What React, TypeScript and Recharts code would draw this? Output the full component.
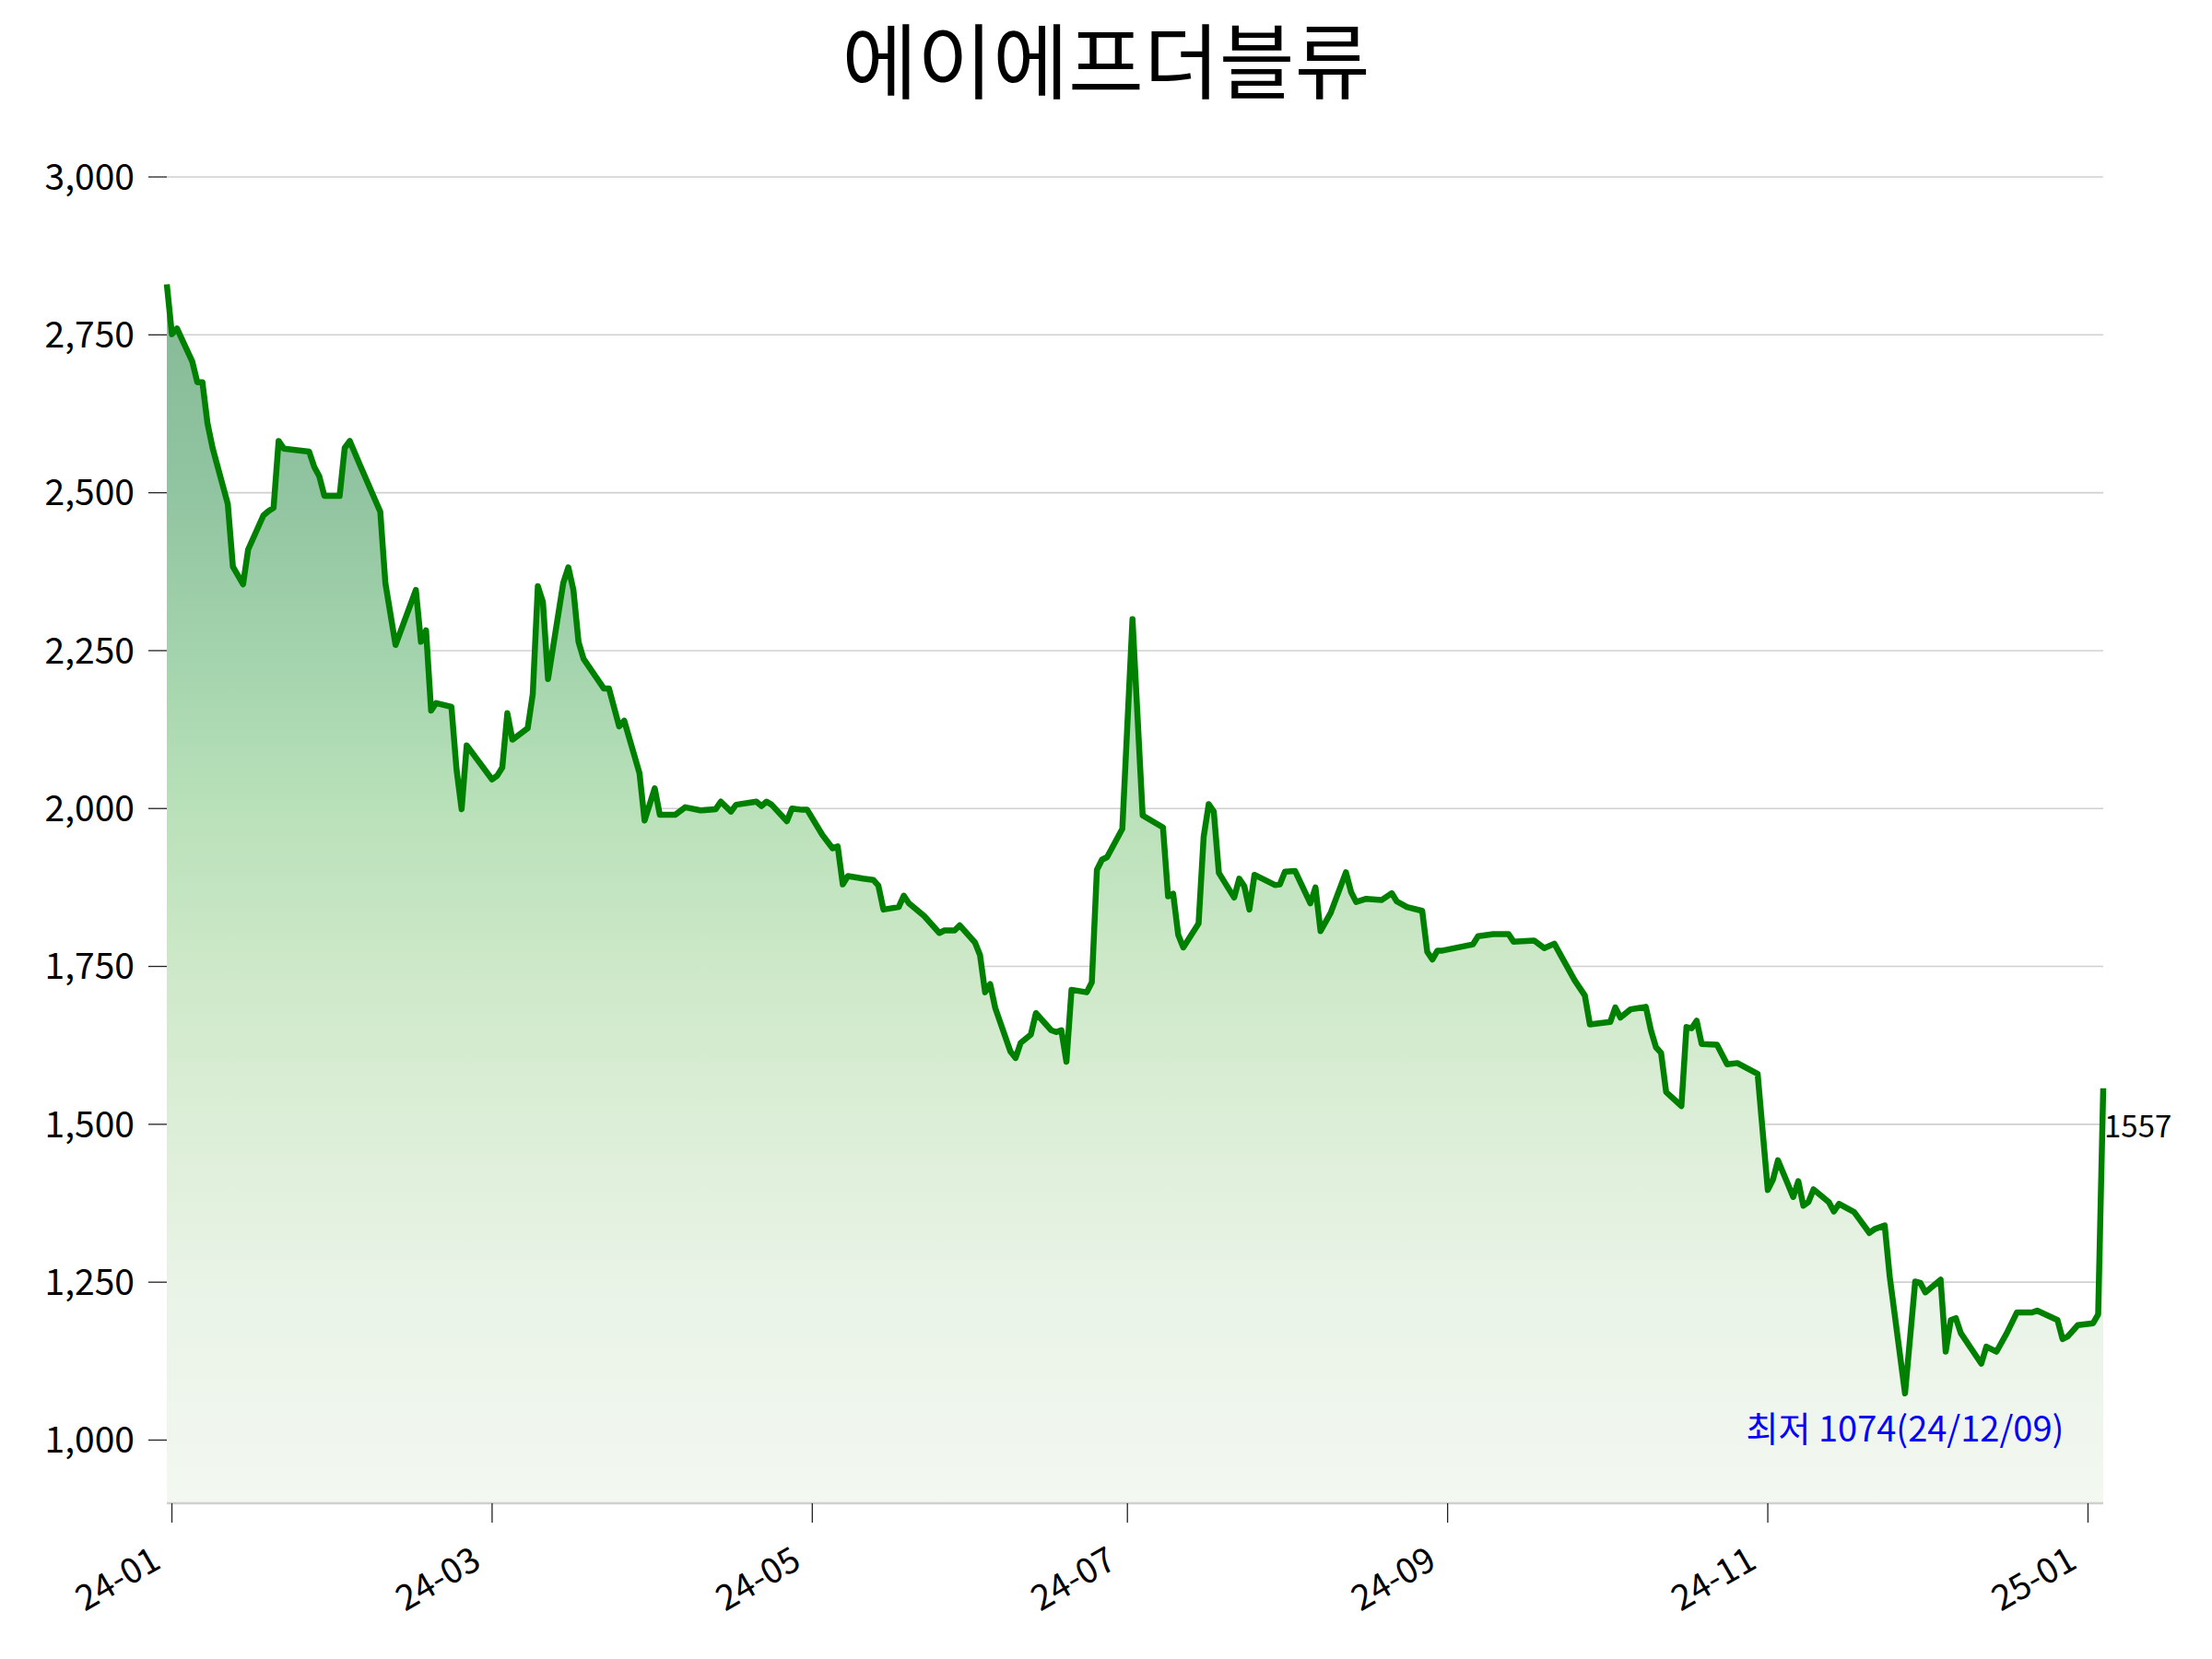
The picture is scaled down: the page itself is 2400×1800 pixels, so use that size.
import React from 'react';
import { AreaChart, Area, XAxis, YAxis, CartesianGrid, ReferenceDot } from 'recharts';

const TITLE = '에이에프더블류';
const FONT = '"Noto Sans CJK KR", "Noto Sans", sans-serif';

const dates = [
  '2024-01-02', '2024-01-03', '2024-01-04', '2024-01-07', '2024-01-08', '2024-01-09', '2024-01-10', '2024-01-11',
  '2024-01-14', '2024-01-15', '2024-01-17', '2024-01-18', '2024-01-21', '2024-01-22', '2024-01-23', '2024-01-24',
  '2024-01-25', '2024-01-30', '2024-01-31', '2024-02-01', '2024-02-02', '2024-02-05', '2024-02-06', '2024-02-07',
  '2024-02-09', '2024-02-13', '2024-02-14', '2024-02-16', '2024-02-20', '2024-02-21', '2024-02-22', '2024-02-23',
  '2024-02-24', '2024-02-27', '2024-02-28', '2024-02-29', '2024-03-01', '2024-03-06', '2024-03-07', '2024-03-08',
  '2024-03-09', '2024-03-10', '2024-03-13', '2024-03-14', '2024-03-15', '2024-03-16', '2024-03-17', '2024-03-20',
  '2024-03-21', '2024-03-22', '2024-03-23', '2024-03-24', '2024-03-28', '2024-03-29', '2024-03-31', '2024-04-01',
  '2024-04-04', '2024-04-05', '2024-04-07', '2024-04-08', '2024-04-11', '2024-04-13', '2024-04-16', '2024-04-19',
  '2024-04-20', '2024-04-22', '2024-04-23', '2024-04-27', '2024-04-28', '2024-04-29', '2024-04-30', '2024-05-03',
  '2024-05-04', '2024-05-06', '2024-05-07', '2024-05-10', '2024-05-12', '2024-05-13', '2024-05-14', '2024-05-15',
  '2024-05-18', '2024-05-20', '2024-05-21', '2024-05-22', '2024-05-25', '2024-05-26', '2024-05-27', '2024-05-30',
  '2024-06-02', '2024-06-03', '2024-06-05', '2024-06-06', '2024-06-09', '2024-06-10', '2024-06-11', '2024-06-12',
  '2024-06-13', '2024-06-16', '2024-06-17', '2024-06-18', '2024-06-20', '2024-06-21', '2024-06-24', '2024-06-25',
  '2024-06-26', '2024-06-27', '2024-06-28', '2024-07-01', '2024-07-02', '2024-07-03', '2024-07-04', '2024-07-05',
  '2024-07-08', '2024-07-10', '2024-07-12', '2024-07-16', '2024-07-17', '2024-07-18', '2024-07-19', '2024-07-20',
  '2024-07-23', '2024-07-24', '2024-07-25', '2024-07-26', '2024-07-27', '2024-07-30', '2024-07-31', '2024-08-01',
  '2024-08-02', '2024-08-03', '2024-08-07', '2024-08-08', '2024-08-09', '2024-08-11', '2024-08-14', '2024-08-15',
  '2024-08-16', '2024-08-18', '2024-08-21', '2024-08-22', '2024-08-23', '2024-08-25', '2024-08-28', '2024-08-30',
  '2024-08-31', '2024-09-02', '2024-09-05', '2024-09-06', '2024-09-07', '2024-09-08', '2024-09-09', '2024-09-15',
  '2024-09-16', '2024-09-19', '2024-09-22', '2024-09-23', '2024-09-27', '2024-09-29', '2024-10-01', '2024-10-05',
  '2024-10-07', '2024-10-08', '2024-10-12', '2024-10-13', '2024-10-14', '2024-10-16', '2024-10-19', '2024-10-20',
  '2024-10-21', '2024-10-22', '2024-10-23', '2024-10-26', '2024-10-27', '2024-10-28', '2024-10-29', '2024-10-30',
  '2024-11-02', '2024-11-04', '2024-11-06', '2024-11-10', '2024-11-12', '2024-11-13', '2024-11-14', '2024-11-17',
  '2024-11-18', '2024-11-19', '2024-11-20', '2024-11-21', '2024-11-24', '2024-11-25', '2024-11-26', '2024-11-29',
  '2024-12-02', '2024-12-03', '2024-12-05', '2024-12-06', '2024-12-09', '2024-12-11', '2024-12-12', '2024-12-13',
  '2024-12-16', '2024-12-17', '2024-12-18', '2024-12-19', '2024-12-20', '2024-12-24', '2024-12-25', '2024-12-27',
  '2024-12-29', '2024-12-31', '2025-01-03', '2025-01-04', '2025-01-08', '2025-01-09', '2025-01-10', '2025-01-12',
  '2025-01-15', '2025-01-16', '2025-01-17',
];

const closes = [
  2830, 2751, 2760, 2708, 2675, 2675, 2610, 2571,
  2482, 2383, 2355, 2410, 2464, 2471, 2476, 2582,
  2570, 2565, 2541, 2526, 2495, 2495, 2571, 2582,
  2544, 2470, 2357, 2259, 2346, 2264, 2282, 2155,
  2167, 2161, 2062, 1999, 2100, 2046, 2052, 2065,
  2151, 2109, 2127, 2181, 2352, 2327, 2205, 2357,
  2382, 2346, 2264, 2237, 2190, 2190, 2130, 2139,
  2056, 1981, 2032, 1990, 1990, 2002, 1997, 1999,
  2011, 1995, 2006, 2011, 2004, 2011, 2006, 1980,
  2000, 1998, 1998, 1958, 1937, 1940, 1880, 1893,
  1889, 1887, 1878, 1840, 1844, 1862, 1850, 1830,
  1803, 1807, 1807, 1815, 1788, 1768, 1709, 1722,
  1684, 1615, 1605, 1629, 1642, 1676, 1649, 1646,
  1649, 1599, 1713, 1709, 1725, 1903, 1919, 1923,
  1968, 2300, 1989, 1970, 1861, 1865, 1800, 1780,
  1818, 1955, 2007, 1995, 1898, 1859, 1889, 1877,
  1840, 1895, 1879, 1880, 1900, 1901, 1850, 1875,
  1806, 1835, 1899, 1868, 1852, 1857, 1855, 1866,
  1853, 1844, 1838, 1773, 1761, 1775, 1775, 1785,
  1798, 1801, 1801, 1789, 1791, 1779, 1786, 1728,
  1704, 1658, 1662, 1685, 1669, 1682, 1686, 1649,
  1622, 1613, 1551, 1529, 1654, 1652, 1664, 1627,
  1626, 1595, 1597, 1580, 1396, 1412, 1443, 1385,
  1410, 1371, 1377, 1397, 1377, 1362, 1374, 1361,
  1328, 1334, 1340, 1258, 1074, 1251, 1249, 1234,
  1254, 1140, 1190, 1193, 1169, 1121, 1148, 1140,
  1169, 1202, 1202, 1205, 1190, 1160, 1164, 1182,
  1185, 1199, 1557,
];

const tickDates = ['2024-01-03', '2024-03-06', '2024-05-08', '2024-07-09', '2024-09-10', '2024-11-12', '2025-01-14'];
const tickLabels = ['24-01', '24-03', '24-05', '24-07', '24-09', '24-11', '25-01'];
const yTicks = [1000, 1250, 1500, 1750, 2000, 2250, 2500, 2750, 3000];

const dayOf = (s: string) => {
  const [y, m, d] = s.split('-').map(Number);
  return Math.round((Date.UTC(y, m - 1, d) - Date.UTC(2024, 0, 1)) / 86400000);
};

const data = dates.map((d, i) => ({ day: dayOf(d), close: closes[i], date: d }));
const tickDays = tickDates.map(dayOf);

let minIdx = 0;
closes.forEach((v, i) => { if (v < closes[minIdx]) minIdx = i; });
const lastIdx = closes.length - 1;
const minPoint = data[minIdx];
const lastPoint = data[lastIdx];
const minDateLabel = minPoint.date.slice(2).replace(/-/g, '/');

const XTick = (props: any) => {
  const { x, y, payload } = props;
  const i = tickDays.indexOf(payload.value);
  const label = i >= 0 ? tickLabels[i] : '';
  const ax = x - 10;
  const ay = y + 48;
  return (
    <text x={ax} y={ay} textAnchor="end" fontSize={38} fontFamily={FONT} fill="#000"
      transform={`rotate(-30 ${ax} ${ay})`}>{label}</text>
  );
};

const MinLabel = (props: any) => {
  const vb = props.viewBox || {};
  const cx = vb.x + (vb.width || 0) / 2;
  const cy = vb.y + (vb.height || 0) / 2;
  return (
    <text x={cx} y={cy + 52} textAnchor="middle" fontSize={38} fontFamily={FONT} fill="#0000ff">
      {`최저 ${minPoint.close}(${minDateLabel})`}
    </text>
  );
};

const LastLabel = (props: any) => {
  const vb = props.viewBox || {};
  const cx = vb.x + (vb.width || 0) / 2;
  const cy = vb.y + (vb.height || 0) / 2;
  return (
    <text x={cx + 1} y={cy + 53} textAnchor="start" fontSize={33} fontFamily={FONT} fill="#000">
      {`${lastPoint.close}`}
    </text>
  );
};

export default function App() {
  return (
    <div style={{ position: 'relative', width: 2400, height: 1800, background: '#fff' }}>
      <style>{`html,body{margin:0;padding:0;background:#fff;}`}</style>
      <div style={{
        position: 'absolute', left: 0, top: 8, width: 2400, textAlign: 'center',
        fontSize: 89, lineHeight: '107px', fontFamily: FONT, color: '#000', whiteSpace: 'nowrap',
      }}>{TITLE}</div>
      <AreaChart width={2400} height={1800} data={data}
        margin={{ top: 192, right: 118, bottom: 0, left: 0 }}>
        <defs>
          <linearGradient id="fillGrad" x1="0" y1="0" x2="0" y2="1">
            <stop offset="0" stopColor="#86b996" />
            <stop offset="0.04" stopColor="#88bc98" />
            <stop offset="0.17" stopColor="#91c4a0" />
            <stop offset="0.30" stopColor="#a2d3ac" />
            <stop offset="0.43" stopColor="#b9e1b9" />
            <stop offset="0.56" stopColor="#cde8c8" />
            <stop offset="0.69" stopColor="#dceed7" />
            <stop offset="0.82" stopColor="#e9f3e6" />
            <stop offset="0.95" stopColor="#f0f6ee" />
            <stop offset="1" stopColor="#f3f8f1" />
          </linearGradient>
        </defs>
        <CartesianGrid vertical={false} stroke="#d0d0d0" strokeWidth={1.6} />
        <XAxis dataKey="day" type="number" domain={[data[0].day, data[lastIdx].day]} ticks={tickDays}
          height={169} tickSize={21} tickMargin={0} interval={0}
          axisLine={{ stroke: '#cfcfcf', strokeWidth: 2.6 }}
          tickLine={{ stroke: '#222', strokeWidth: 1.3 }}
          tick={<XTick />} />
        <YAxis type="number" domain={[900, 3000]} ticks={yTicks} width={181} tickSize={20} tickMargin={15}
          axisLine={false} interval={0}
          tickLine={{ stroke: '#222', strokeWidth: 1.3 }}
          tick={{ fontSize: 39, fill: '#000', fontFamily: FONT }}
          tickFormatter={(v: number) => v.toLocaleString('en-US')} />
        <Area type="linear" dataKey="close" stroke="#008000" strokeWidth={6.5} strokeLinejoin="round"
          fill="url(#fillGrad)" fillOpacity={1}
          isAnimationActive={false} dot={false} activeDot={false} />
        <ReferenceDot x={minPoint.day} y={minPoint.close} r={1} fill="none" stroke="none" label={<MinLabel />} />
        <ReferenceDot x={lastPoint.day} y={lastPoint.close} r={1} fill="none" stroke="none" label={<LastLabel />} />
      </AreaChart>
    </div>
  );
}
